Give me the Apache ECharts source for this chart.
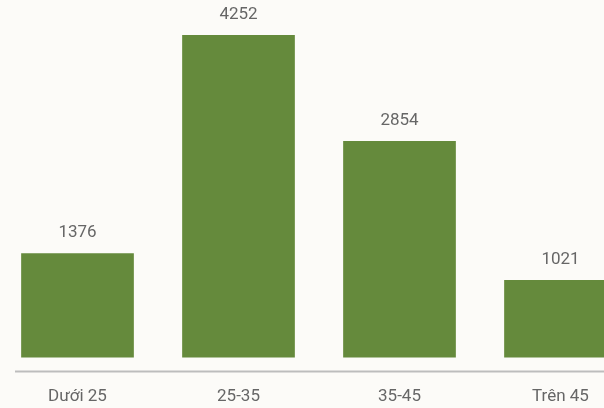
<!DOCTYPE html>
<html>
<head>
<meta charset="utf-8">
<script src="https://cdn.jsdelivr.net/npm/echarts@6/dist/echarts.min.js"></script>
<style>
html,body{margin:0;padding:0;background:#fcfbf8;}
#chart{width:604px;height:408px;}
</style>
</head>
<body>
<div id="chart"></div>
<script>
var categories = ["Dưới 25", "25-35", "35-45", "Trên 45"];
var values = [1376, 4252, 2854, 1021];

var chart = echarts.init(document.getElementById('chart'), null, {renderer: 'canvas'});
chart.setOption({
  backgroundColor: '#fcfbf8',
  animation: false,
  grid: {left: -3, width: 644, top: 1, height: 356.5, containLabel: false, outerBoundsMode: 'none'},
  xAxis: {
    type: 'category',
    data: categories,
    axisLine: {show: false},
    axisTick: {show: false},
    axisLabel: {color: '#666666', fontFamily: 'Roboto', fontSize: 17, margin: 31}
  },
  yAxis: {
    type: 'value', min: 0, max: 4700, show: false,
    splitLine: {show: false}
  },
  series: [{
    type: 'bar',
    data: values,
    barWidth: '70%',
    itemStyle: {color: '#658a3c'},
    label: {show: true, position: 'top', distance: 12, color: '#666666', fontFamily: 'Roboto', fontSize: 17}
  }],
  graphic: [{
    type: 'line',
    shape: {x1: 15, y1: 371.5, x2: 604, y2: 371.5},
    style: {stroke: '#bdbdbd', lineWidth: 2}
  }]
});
</script>
</body>
</html>
